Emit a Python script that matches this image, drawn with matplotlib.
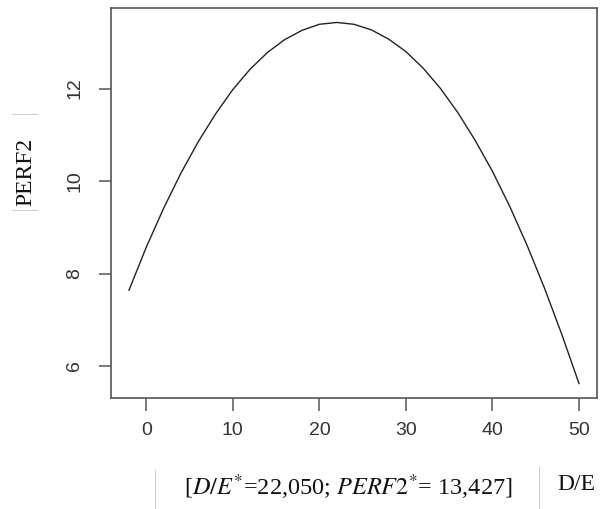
import matplotlib
matplotlib.use("Agg")
import matplotlib.pyplot as plt
from matplotlib.lines import Line2D

# values (D/E vs PERF2)
de = [-2, 0, 2, 4, 6, 8, 10, 12, 14, 16, 18, 20, 22, 24, 26,
      28, 30, 32, 34, 36, 38, 40, 42, 44, 46, 48, 50]
perf2 = [7.64, 8.57, 9.41, 10.17, 10.85, 11.45, 11.98, 12.42, 12.78,
         13.06, 13.26, 13.39, 13.43, 13.39, 13.27, 13.07, 12.80, 12.44,
         12.00, 11.48, 10.88, 10.21, 9.45, 8.61, 7.69, 6.69, 5.62]
xticks = [0, 10, 20, 30, 40, 50]
yticks = [6, 8, 10, 12]
note = r"[$D/E^{*}$=22,050; $PERF2^{*}$= 13,427]"

plt.rcParams["mathtext.fontset"] = "stix"
plt.rcParams["font.family"] = ["Liberation Sans", "DejaVu Sans"]

fig = plt.figure(figsize=(6.08, 5.09), dpi=100)
ax = fig.add_axes([111 / 608, 1 - 398 / 509, 486 / 608, 390 / 509])

ax.plot(de, perf2, color="#222222", lw=1.0)

# R-style 4% padding
span_x = max(de) - min(de)
span_y = max(perf2) - min(perf2)
ax.set_xlim(min(de) - 0.04 * span_x, max(de) + 0.04 * span_x)
ax.set_ylim(min(perf2) - 0.04 * span_y, max(perf2) + 0.04 * span_y)

ax.set_xticks(xticks)
ax.set_yticks(yticks)
ax.tick_params(length=9, width=1.1, color="#555555", labelcolor="#333333",
               labelsize=14)
ax.tick_params(axis="x", pad=8)
ax.tick_params(axis="y", pad=11)
for lab in ax.get_yticklabels():
    lab.set_rotation(90)
    lab.set_va("center")
for s in ax.spines.values():
    s.set_color("#555555")
    s.set_linewidth(1.2)

serif = ["Liberation Serif", "DejaVu Serif"]
fig.text(26 / 608, 1 - 172 / 509, "PERF2", rotation=90, ha="center", va="center",
         fontsize=17, family=serif, color="#111111")
fig.text(348 / 608, 1 - 487 / 509, note, ha="center", va="center",
         fontsize=17.5, family=serif, color="#111111")
fig.text(576 / 608, 1 - 484 / 509, "D/E", ha="center", va="center",
         fontsize=17, family=serif, color="#111111")

# faint edges of the pasted text boxes
grey = "#cccccc"
for xs, ys in [((12, 37), (114, 114)), ((12, 37), (210, 210)),
               ((155, 155), (470, 509)), ((539, 539), (467, 509))]:
    fig.add_artist(Line2D([x / 608 for x in xs], [1 - y / 509 for y in ys],
                          color=grey, lw=0.8))

fig.savefig("out.png", dpi=100)
